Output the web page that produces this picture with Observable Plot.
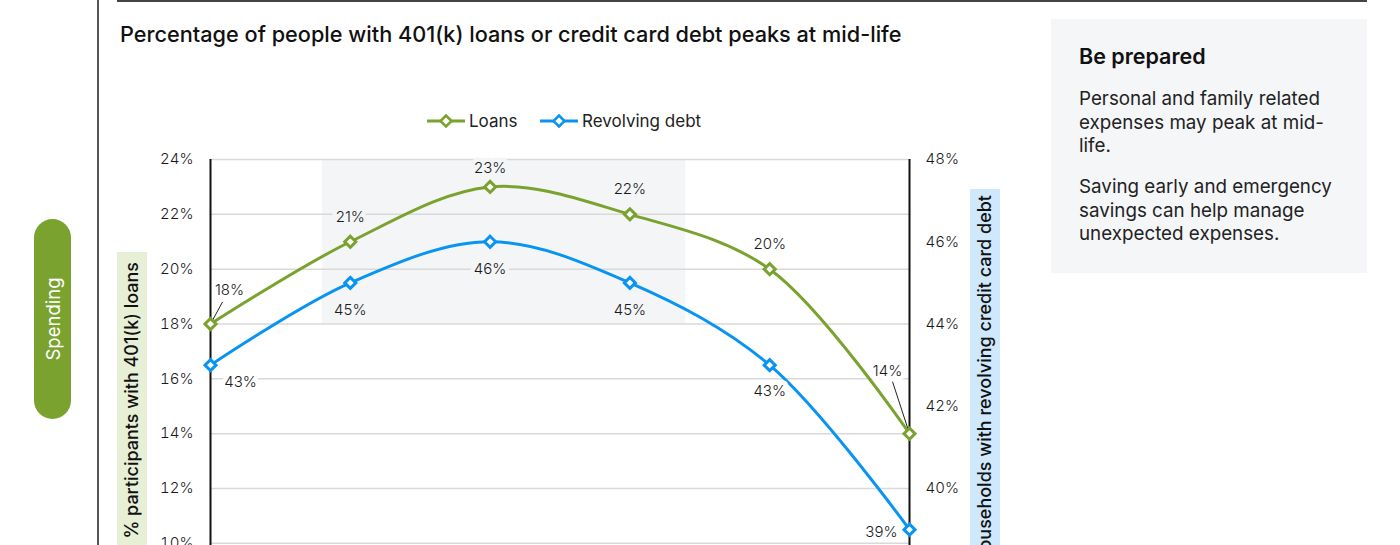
<!DOCTYPE html>
<html>
<head>
<meta charset="utf-8">
<script src="https://cdn.jsdelivr.net/npm/d3@7"></script>
<script src="https://cdn.jsdelivr.net/npm/@observablehq/plot@0.6"></script>
<style>
html, body { margin: 0; padding: 0; width: 1400px; height: 545px; overflow: hidden; background: #fff; }
body { font-family: Inter, "Noto Sans", sans-serif; color: #111; }
#root { position: relative; width: 1400px; height: 545px; overflow: hidden; }
.abs { position: absolute; }
#chart { position: absolute; left: 0; top: 0; z-index: 1; }
.vlabel { position: absolute; width: 460px; height: 30px; line-height: 30px; transform-origin: 0 0; transform: rotate(-90deg); text-align: right; box-sizing: border-box; font-size: 18px; font-weight: 500; color: #111; white-space: nowrap; z-index: 2; }
.legend-item { position: absolute; top: 111px; height: 20px; display: flex; align-items: center; font-size: 17px; color: #222; z-index: 2; }
.legend-item svg { margin-right: 4px; }
#side { left: 1051px; top: 19px; width: 316px; height: 254px; background: #f5f6f8; }
#side h3 { position: absolute; left: 28px; top: 24px; margin: 0; font-size: 21.5px; line-height: 26px; font-weight: 600; color: #111; }
#side p { position: absolute; left: 28px; margin: 0; font-size: 18.8px; line-height: 23.5px; color: #222; white-space: nowrap; }
</style>
</head>
<body>
<div id="root">
  <div class="abs" style="left:97px;top:0;width:1.5px;height:545px;background:#555;"></div>
  <div class="abs" style="left:117px;top:0;width:1250px;height:1.5px;background:#444;"></div>
  <div class="abs" style="left:34px;top:219px;width:37px;height:200px;border-radius:18.5px;background:#7aa22f;display:flex;align-items:center;justify-content:center;">
    <span style="transform:rotate(-90deg);color:#fff;font-size:18.5px;white-space:nowrap;">Spending</span>
  </div>
  <div class="abs" style="left:120px;top:21px;font-size:21.7px;line-height:26px;font-weight:500;color:#111;white-space:nowrap;">Percentage of people with 401(k) loans or credit card debt peaks at mid-life</div>

  <div class="legend-item" id="leg-loans" style="left:427px;"></div>
  <div class="legend-item" id="leg-rev" style="left:540px;"></div>

  <div class="vlabel" style="left:117px;top:712px;background:#e7efd6;padding-right:10px;">% participants with 401(k) loans</div>
  <div class="vlabel" style="left:970px;top:649px;background:#cfe8fb;padding-right:6px;">% households with revolving credit card debt</div>

  <div class="abs" id="side">
    <h3>Be prepared</h3>
    <p style="top:68px;">Personal and family related<br>expenses may peak at mid-<br>life.</p>
    <p style="top:156px;">Saving early and emergency<br>savings can help manage<br>unexpected expenses.</p>
  </div>
  <div id="chart"></div>
</div>
<script>
// ---- data ----
const ageGroups = ["Under 30", "30–39", "40–49", "50–59", "60–69", "70+"];
const loans = [18, 21, 23, 22, 20, 14];
const revolving = [43, 45, 46, 45, 43, 39];
const leftTicks = [0, 2, 4, 6, 8, 10, 12, 14, 16, 18, 20, 22, 24];
const rightTicks = [32, 34, 36, 38, 40, 42, 44, 46, 48];
const seriesNames = ["Loans", "Revolving debt"];
const midlifeBandX = [0.8, 3.4];   // in age-group index units
const midlifeBandY = [18, 24];     // in left-axis %

// ---- styling ----
const colors = ["#7aa22f", "#0a94f2"];
const bandColor = "#f4f5f7";
const leftDomain = [0, 24];
const rightDomain = [32, 48];
const toLeft = v => leftDomain[0] + (v - rightDomain[0]) * (leftDomain[1] - leftDomain[0]) / (rightDomain[1] - rightDomain[0]);
const fromLeft = v => rightDomain[0] + (v - leftDomain[0]) * (rightDomain[1] - rightDomain[0]) / (leftDomain[1] - leftDomain[0]);

// label offsets [dx, dy, anchor] per series / point (pixels)
const labelStyle = {
  "Loans": [[19, -34, "middle"], [0, -25, "middle"], [0, -19, "middle"], [0, -25, "middle"], [0, -25, "middle"], [-22, -62, "middle"]],
  "Revolving debt": [[30, 17, "middle"], [0, 27, "middle"], [0, 27, "middle"], [0, 27, "middle"], [0, 26, "middle"], [-12, 3, "end"]]
};
// leader lines [series, index, dx px, dy px] from the point towards its label
const leaders = [["Loans", 0, 12, -22], ["Loans", 5, -17, -52]];

const rows = [];
ageGroups.forEach((g, i) => {
  rows.push({i, group: g, series: "Loans", value: loans[i], y: loans[i]});
  rows.push({i, group: g, series: "Revolving debt", value: revolving[i], y: toLeft(revolving[i])});
});

const labelMarks = rows.map(r => {
  const [dx, dy, anchor] = labelStyle[r.series][r.i];
  const inBand = r.i >= midlifeBandX[0] && r.i <= midlifeBandX[1];
  return Plot.text([r], {
    x: "i", y: "y", text: d => d.value + "%",
    dx, dy, textAnchor: anchor,
    fill: "#1a1a1a", stroke: inBand ? bandColor : "white", strokeWidth: 9, strokeLinejoin: "round",
    fontSize: 15, fontWeight: 300
  });
});

function makePlot(leaderRows) {
  return Plot.plot({
    width: 1040,
    height: 900,
    marginLeft: 210,
    marginRight: 131,
    marginTop: 159,
    marginBottom: 83,
    style: {background: "transparent", overflow: "visible", fontFamily: "Inter, 'Noto Sans', sans-serif", fontSize: "15px", color: "#1a1a1a"},
    x: {domain: [0, ageGroups.length - 1], axis: null},
    y: {domain: leftDomain, axis: null},
    color: {domain: seriesNames, range: colors},
    marks: [
      Plot.rect([{x1: midlifeBandX[0], x2: midlifeBandX[1], y1: midlifeBandY[0], y2: midlifeBandY[1]}], {x1: "x1", x2: "x2", y1: "y1", y2: "y2", fill: bandColor}),
      Plot.ruleY(leftTicks, {stroke: "#d9d9d9", strokeWidth: 1.5}),
      Plot.axisY(leftTicks, {anchor: "left", tickSize: 0, tickPadding: 17, tickFormat: d => d + "%", label: null, fontSize: 15, fontWeight: 300}),
      Plot.axisY(rightTicks.map(toLeft), {anchor: "right", tickSize: 0, tickPadding: 16, tickFormat: d => Math.round(fromLeft(d)) + "%", label: null, fontSize: 15, fontWeight: 300}),
      Plot.axisX(d3.range(ageGroups.length), {tickSize: 0, tickPadding: 12, tickFormat: i => ageGroups[i], label: null, fontSize: 15, fontWeight: 300}),
      Plot.link(leaderRows, {x1: "x1", y1: "y1", x2: "x2", y2: "y2", stroke: "#222", strokeWidth: 1}),
      Plot.line(rows, {x: "i", y: "y", z: "series", stroke: "series", strokeWidth: 3, curve: "catmull-rom"}),
      ...labelMarks,
      Plot.ruleX([0, ageGroups.length - 1], {y1: leftDomain[0], y2: leftDomain[1], stroke: "#111", strokeWidth: 2}),
      Plot.dot(rows, {x: "i", y: "y", symbol: "diamond2", r: 5, stroke: "series", strokeWidth: 3, fill: "white"})
    ]
  });
}

// first pass to read the plot's own scales, then place leader ends
const probe = makePlot([]);
const sx = probe.scale("x"), sy = probe.scale("y");
const leaderRows = leaders.map(([s, idx, dxp, dyp]) => {
  const r = rows.find(d => d.series === s && d.i === idx);
  return {x1: r.i, y1: r.y, x2: sx.invert(sx.apply(r.i) + dxp), y2: sy.invert(sy.apply(r.y) + dyp)};
});
document.getElementById("chart").appendChild(makePlot(leaderRows));

// legend
function legendIcon(color) {
  return `<svg width="38" height="14" viewBox="0 0 38 14"><line x1="0" x2="38" y1="7" y2="7" stroke="${color}" stroke-width="3"/><path d="M19,1.5 L24.5,7 L19,12.5 L13.5,7 Z" fill="white" stroke="${color}" stroke-width="2.5"/></svg>`;
}
document.getElementById("leg-loans").innerHTML = legendIcon(colors[0]) + `<span>${seriesNames[0]}</span>`;
document.getElementById("leg-rev").innerHTML = legendIcon(colors[1]) + `<span>${seriesNames[1]}</span>`;
</script>
</body>
</html>
